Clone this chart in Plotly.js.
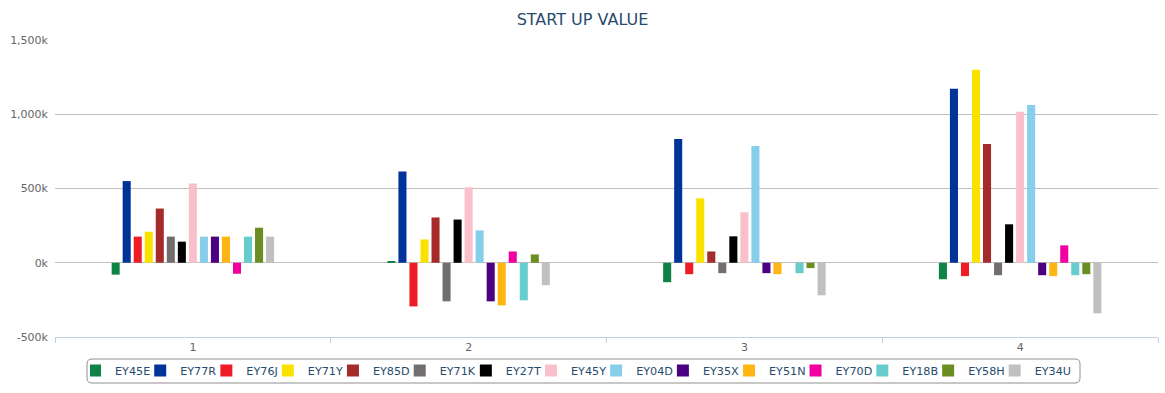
<!DOCTYPE html>
<html>
<head>
<meta charset="utf-8">
<script src="https://cdn.plot.ly/plotly-3.0.1.min.js"></script>
<style>
  html, body { margin: 0; padding: 0; background: #fff; }
  #chart { width: 1165px; height: 393px; }
</style>
</head>
<body>
<div id="chart"></div>
<script>
const categories = ['1', '2', '3', '4'];

const seriesNames = ['EY45E','EY77R','EY76J','EY71Y','EY85D','EY71K','EY27T','EY45Y','EY04D','EY35X','EY51N','EY70D','EY18B','EY58H','EY34U'];

const seriesColors = ['#0f8245','#003399','#ee1c25','#fae100','#a52a2a','#736e6e','#000000','#f9c0cb','#87ceeb','#4b0082','#ffb612','#f000a0','#66cccc','#6b8e23','#c0c0c0'];

// values per series, one per category (1..4)
const EY45E = [-80000, 10000, -131000, -111000];
const EY77R = [550000, 615000, 833000, 1171000];
const EY76J = [176000, -294000, -77000, -90000];
const EY71Y = [209000, 157000, 434000, 1299000];
const EY85D = [365000, 305000, 76000, 799000];
const EY71K = [176000, -260000, -70000, -84000];
const EY27T = [142000, 291000, 178000, 259000];
const EY45Y = [534000, 508000, 340000, 1016000];
const EY04D = [176000, 218000, 786000, 1063000];
const EY35X = [176000, -260000, -70000, -84000];
const EY51N = [176000, -287000, -77000, -90000];
const EY70D = [-74000, 76000, 0, 117000];
const EY18B = [176000, -253000, -70000, -84000];
const EY58H = [236000, 56000, -36000, -77000];
const EY34U = [176000, -151000, -219000, -341000];

const seriesValues = [EY45E, EY77R, EY76J, EY71Y, EY85D, EY71K, EY27T, EY45Y, EY04D, EY35X, EY51N, EY70D, EY18B, EY58H, EY34U];

const yTickVals = [-500000, 0, 500000, 1000000, 1500000];
const yTickText = ['-500k', '0k', '500k', '1,000k', '1,500k'];

const FONT = '"DejaVu Sans", "Lucida Grande", Verdana, Arial, sans-serif';

const W = 1165, H = 393;
const M = { l: 55, r: 7, t: 40, b: 56 };
const plotW = W - M.l - M.r, plotH = H - M.t - M.b;
const px2x = px => (px - M.l) / plotW;
const px2y = py => (H - M.b - py) / plotH;

// rounded legend frame (paper coordinates)
function roundedRect(x0p, y0p, x1p, y1p, r) {
  const x0 = px2x(x0p), x1 = px2x(x1p), y0 = px2y(y0p), y1 = px2y(y1p);
  const rx = r / plotW, ry = r / plotH;
  return `M ${x0 + rx} ${y0} L ${x1 - rx} ${y0} Q ${x1} ${y0} ${x1} ${y0 - ry} ` +
         `L ${x1} ${y1 + ry} Q ${x1} ${y1} ${x1 - rx} ${y1} ` +
         `L ${x0 + rx} ${y1} Q ${x0} ${y1} ${x0} ${y1 + ry} ` +
         `L ${x0} ${y0 - ry} Q ${x0} ${y0} ${x0 + rx} ${y0} Z`;
}

const traces = seriesNames.map((name, i) => ({
  type: 'bar',
  name: name,
  x: categories,
  y: seriesValues[i],
  marker: { color: seriesColors[i], line: { width: 0 } },
  hoverinfo: 'name+y'
}));

const layout = {
  width: W,
  height: H,
  margin: { l: M.l, r: M.r, t: M.t, b: M.b, pad: 0, autoexpand: false },
  paper_bgcolor: '#ffffff',
  plot_bgcolor: '#ffffff',
  font: { family: FONT, color: '#666666', size: 11 },
  title: {
    text: 'START UP VALUE',
    font: { family: FONT, size: 16, color: '#274b6d' },
    x: 0.5, xanchor: 'center',
    y: 1 - 19 / 393, yanchor: 'middle', yref: 'container'
  },
  barmode: 'group',
  bargap: 0.4,
  bargroupgap: 0.27,
  xaxis: {
    type: 'category',
    categoryorder: 'array',
    categoryarray: categories,
    tickson: 'boundaries',
    ticks: 'outside',
    ticklen: 5,
    tickcolor: '#C0D0E0',
    tickwidth: 1,
    showline: true,
    linecolor: '#C0D0E0',
    linewidth: 1,
    showgrid: false,
    zeroline: false,
    tickfont: { family: FONT, size: 11, color: '#666666' },
    fixedrange: true
  },
  yaxis: {
    range: [-500000, 1500000],
    tickmode: 'array',
    tickvals: yTickVals,
    ticktext: yTickText,
    showgrid: true,
    gridcolor: '#C0C0C0',
    gridwidth: 1,
    zeroline: true,
    zerolinecolor: '#C0C0C0',
    zerolinewidth: 1,
    showline: false,
    ticks: '',
    ticklabelstandoff: 6,
    tickfont: { family: FONT, size: 11, color: '#666666' },
    fixedrange: true
  },
  showlegend: true,
  legend: {
    orientation: 'h',
    x: px2x(90), xanchor: 'left',
    y: px2y(356), yanchor: 'top',
    borderwidth: 0,
    bgcolor: 'rgba(0,0,0,0)',
    font: { family: FONT, size: 11.2, color: '#274b6d' },
    itemwidth: 30,
    indentation: -15,
    traceorder: 'normal',
    itemclick: false,
    itemdoubleclick: false
  },
  shapes: [{
    type: 'path',
    xref: 'paper', yref: 'paper',
    path: roundedRect(87, 359, 1080, 383, 5),
    line: { color: '#909090', width: 1 },
    fillcolor: 'rgba(0,0,0,0)',
    layer: 'below'
  }]
};

Plotly.newPlot('chart', traces, layout, { displayModeBar: false });
</script>
</body>
</html>
